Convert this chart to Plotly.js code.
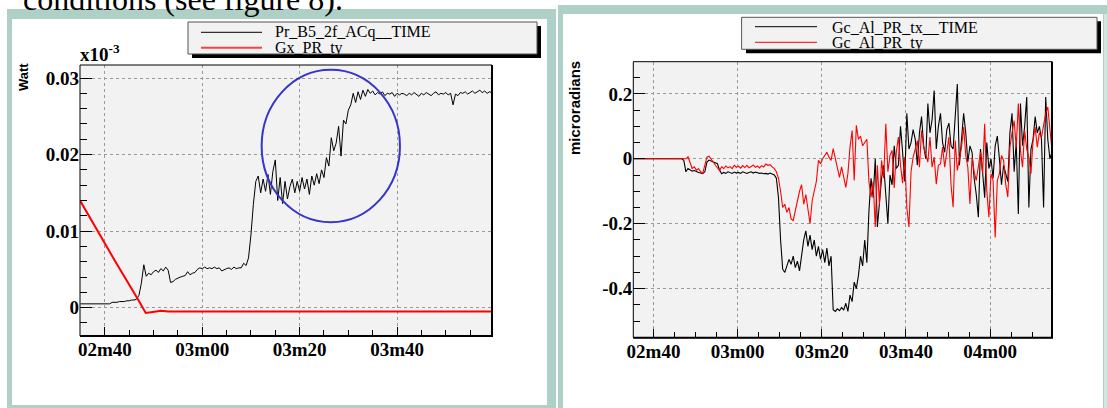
<!DOCTYPE html>
<html><head><meta charset="utf-8">
<script src="https://cdn.plot.ly/plotly-3.0.1.min.js"></script>
<style>html,body{margin:0;padding:0;background:#fff;overflow:hidden}#chart{width:1107px;height:408px}</style>
</head><body><div id="chart"></div>
<script>
// ---------------- DATA ----------------
// Left panel: time in seconds, uniform sampling for the black series
const leftT0 = 155, leftDt = 0.5;
const leftBlackName = "Pr_B5_2f_ACq__TIME";
const leftBlack = [
0.0005,0.0005,0.0005,0.0005,0.0005,0.0005,0.0005,0.0005,0.0005,0.0005,
0.0005,0.0005,0.0005,0.0007,0.0007,0.0007,0.0008,0.0008,0.0008,0.0009,
0.0009,0.0010,0.0010,0.0011,0.0016,0.0032,0.0056,0.0041,0.0045,0.0043,
0.0047,0.0049,0.0046,0.0051,0.0048,0.0053,0.0049,0.0033,0.0034,0.0037,
0.0039,0.0040,0.0041,0.0042,0.0047,0.0043,0.0045,0.0046,0.0050,0.0052,
0.0051,0.0053,0.0051,0.0052,0.0051,0.0053,0.0051,0.0052,0.0048,0.0050,
0.0051,0.0052,0.0050,0.0053,0.0051,0.0052,0.0052,0.0058,0.0055,0.0065,
0.0095,0.0135,0.0165,0.0172,0.0150,0.0168,0.0152,0.0174,0.0148,0.0178,
0.0193,0.0140,0.0170,0.0136,0.0165,0.0142,0.0158,0.0168,0.0150,0.0165,
0.0152,0.0170,0.0155,0.0168,0.0148,0.0172,0.0160,0.0175,0.0162,0.0180,
0.0170,0.0196,0.0185,0.0222,0.0205,0.0215,0.0237,0.0198,0.0245,0.0240,
0.0258,0.0265,0.0280,0.0268,0.0282,0.0272,0.0284,0.0276,0.0285,0.0280,
0.0283,0.0278,0.0281,0.0279,0.0282,0.0277,0.0280,0.0279,0.0281,0.0276,
0.0280,0.0278,0.0280,0.0279,0.0277,0.0280,0.0278,0.0281,0.0279,0.0276,
0.0280,0.0278,0.0281,0.0279,0.0277,0.0280,0.0282,0.0278,0.0280,0.0279,
0.0281,0.0278,0.0280,0.0265,0.0279,0.0277,0.0281,0.0280,0.0282,0.0279,
0.0281,0.0283,0.0280,0.0282,0.0284,0.0281,0.0283,0.0280,0.0282,0.0281];
const leftRedName = "Gx_PR_ty";
const leftRedT = [155, 158.2, 162, 166.7, 168.4, 169.5, 171.5, 173, 180, 190, 200, 210, 220, 230, 239.5];
const leftRedV = [0.0139, 0.0103, 0.0062, 0.0012, -0.0007, -0.0006, -0.0004, -0.0005, -0.0005, -0.0005, -0.0005, -0.0005, -0.0005, -0.0005, -0.0005];

// Right panel
const rightT0 = 155.2, rightDt = 0.5;
const rightBlackName = "Gc_Al_PR_tx__TIME";
const rightBlack = [
0,0,0,0,0,0,0,0,0,0,
0,0,0,0,0,0,0,0,0,0,
0,0,0,0,-0.005,-0.040,-0.030,-0.035,-0.038,-0.036,
-0.040,-0.042,-0.044,-0.046,-0.040,-0.010,-0.004,-0.008,-0.010,-0.012,
-0.015,-0.035,-0.046,-0.042,-0.045,-0.040,-0.043,-0.045,-0.041,-0.044,
-0.042,-0.045,-0.040,-0.043,-0.045,-0.042,-0.040,-0.044,-0.041,-0.043,
-0.045,-0.044,-0.046,-0.045,-0.047,-0.044,-0.046,-0.050,-0.060,-0.120,
-0.250,-0.340,-0.350,-0.330,-0.310,-0.325,-0.300,-0.335,-0.315,-0.345,
-0.300,-0.250,-0.222,-0.270,-0.235,-0.280,-0.250,-0.300,-0.270,-0.310,
-0.280,-0.320,-0.275,-0.330,-0.300,-0.465,-0.470,-0.462,-0.468,-0.458,
-0.466,-0.445,-0.470,-0.420,-0.440,-0.380,-0.400,-0.360,-0.300,-0.330,
-0.250,-0.320,-0.160,-0.060,-0.120,0.000,-0.210,-0.120,-0.060,-0.020,
-0.100,-0.200,-0.050,-0.080,0.040,-0.030,-0.020,0.100,0.020,-0.070,
0.140,0.030,0.050,0.090,0.060,-0.020,0.080,0.130,0.040,0.000,
0.170,0.080,0.120,0.210,0.030,0.100,0.140,0.050,0.020,0.090,
0.110,0.040,0.030,0.120,0.230,-0.020,0.070,0.140,0.080,-0.010,
0.040,0.020,-0.060,-0.110,-0.180,0.030,-0.040,-0.120,0.050,-0.030,
0.000,-0.060,0.040,0.070,0.000,-0.080,-0.020,-0.050,-0.070,0.080,
0.140,-0.040,0.050,-0.170,0.170,0.040,0.100,0.190,-0.150,0.030,
0.060,0.130,0.080,0.100,0.060,-0.150,0.190,0.060,0.000,0.020];
const rightRedName = "Gc_Al_PR_ty";
const rightRed = [
0,0,0,0,0,0,0,0,0,0,
0,0,0,0,0,0,0,0,0,0,
0,0,0,0,0,0,0.006,-0.015,-0.030,-0.025,
-0.035,-0.030,-0.040,-0.045,-0.020,0.005,0.008,0.000,-0.010,-0.020,
-0.028,-0.036,-0.025,-0.030,-0.022,-0.028,-0.024,-0.030,-0.020,-0.026,
-0.023,-0.029,-0.021,-0.027,-0.020,-0.028,-0.024,-0.019,-0.026,-0.022,
-0.028,-0.021,-0.025,-0.016,-0.020,-0.018,-0.025,-0.030,-0.040,-0.060,
-0.100,-0.150,-0.140,-0.165,-0.150,-0.185,-0.190,-0.160,-0.120,-0.100,
-0.080,-0.140,-0.110,-0.150,-0.200,-0.130,-0.100,-0.070,-0.005,-0.015,
0.000,0.010,0.020,0.005,-0.005,0.031,0.000,-0.020,-0.057,-0.025,
-0.060,-0.088,-0.045,0.036,0.087,-0.067,0.103,0.060,0.070,0.040,
0.050,0.060,-0.070,-0.118,-0.070,-0.210,-0.020,-0.140,-0.005,-0.060,
0.108,-0.040,0.010,0.026,-0.090,0.020,0.067,-0.020,-0.075,0.005,
-0.150,-0.210,-0.040,0.005,0.030,0.056,-0.026,0.087,0.036,0.015,
-0.010,0.067,-0.026,0.005,-0.078,-0.020,-0.016,0.036,-0.026,0.020,
0.067,-0.080,-0.149,0.056,-0.036,0.000,0.036,0.098,0.010,-0.026,
-0.139,0.005,-0.040,-0.067,-0.016,0.020,-0.046,0.108,-0.098,-0.180,
-0.046,-0.067,-0.242,-0.067,-0.046,0.010,-0.005,-0.078,-0.118,0.036,
0.080,0.118,0.036,0.170,0.026,-0.026,0.087,0.030,0.005,-0.046,
0.056,0.098,0.036,0.080,0.067,0.108,0.139,0.159,0.098,0.026];

// Tick labels
const leftXTicks = [160, 180, 200, 220];
const leftXLabels = ["02m40", "03m00", "03m20", "03m40"];
const leftXMinor = [155, 165, 170, 175, 185, 190, 195, 205, 210, 215, 225, 230, 235];
const leftYTicks = [0, 0.01, 0.02, 0.03];
const leftYLabels = ["0", "0.01", "0.02", "0.03"];
const leftYMinor = [-0.002, 0.002, 0.004, 0.006, 0.008, 0.012, 0.014, 0.016, 0.018, 0.022, 0.024, 0.026, 0.028];
const rightXTicks = [160, 180, 200, 220, 240];
const rightXLabels = ["02m40", "03m00", "03m20", "03m40", "04m00"];
const rightXMinor = [165, 170, 175, 185, 190, 195, 205, 210, 215, 225, 230, 235, 245, 250];
const rightYTicks = [-0.4, -0.2, 0, 0.2];
const rightYLabels = ["-0.4", "-0.2", "0", "0.2"];
const rightYMinor = [-0.5, -0.45, -0.35, -0.3, -0.25, -0.15, -0.1, -0.05, 0.05, 0.1, 0.15, 0.25];

// ---------------- BUILD ----------------
function grid(t0, dt, n) { const a = []; for (let i = 0; i < n; i++) a.push(+(t0 + i * dt).toFixed(2)); return a; }
const W = 1107, H = 408;
const fx = p => p / W, fy = p => 1 - p / H;

const traces = [
  {x: grid(leftT0, leftDt, leftBlack.length), y: leftBlack, type: 'scatter', mode: 'lines', line: {color: '#000', width: 1}, xaxis: 'x', yaxis: 'y', name: leftBlackName, hoverinfo: 'skip'},
  {x: leftRedT, y: leftRedV, type: 'scatter', mode: 'lines', line: {color: '#ff0000', width: 2}, xaxis: 'x', yaxis: 'y', name: leftRedName, hoverinfo: 'skip'},
  {x: grid(rightT0, rightDt, rightBlack.length), y: rightBlack, type: 'scatter', mode: 'lines', line: {color: '#000', width: 1.1}, xaxis: 'x2', yaxis: 'y2', name: rightBlackName, hoverinfo: 'skip'},
  {x: grid(rightT0, rightDt, rightRed.length), y: rightRed, type: 'scatter', mode: 'lines', line: {color: '#ff0000', width: 1.1}, xaxis: 'x2', yaxis: 'y2', name: rightRedName, hoverinfo: 'skip'}
];

const serif = 'Liberation Serif, Times New Roman, serif';
const sans = 'Liberation Sans, Arial, sans-serif';
const tickFont = {family: serif, size: 19, color: '#000', weight: 'bold'};
const teal = '#aed0c6';

function xAx(dom, range, tv, tt, minor, anchor) {
  return {domain: dom, range: range, anchor: anchor, tickmode: 'array', tickvals: tv, ticktext: tt,
    ticks: 'inside', ticklen: 9, tickwidth: 1, tickcolor: '#000', tickfont: tickFont,
    showgrid: true, gridcolor: '#9a9a9a', griddash: 'dot', gridwidth: 1, zeroline: false, showline: false,
    minor: {tickmode: 'array', tickvals: minor, ticks: 'inside', ticklen: 6, tickwidth: 1, tickcolor: '#000', showgrid: false},
    fixedrange: true};
}
function yAx(dom, range, tv, tt, minor, anchor) {
  return {domain: dom, range: range, anchor: anchor, tickmode: 'array', tickvals: tv, ticktext: tt,
    ticks: 'inside', ticklen: 12, tickwidth: 1, tickcolor: '#000', tickfont: tickFont,
    showgrid: true, gridcolor: '#9a9a9a', griddash: 'dot', gridwidth: 1, zeroline: false, showline: false,
    minor: {tickmode: 'array', tickvals: minor, ticks: 'inside', ticklen: 7, tickwidth: 1, tickcolor: '#000', showgrid: false},
    fixedrange: true};
}

const L = {x0: 80, x1: 492, y0: 65, y1: 336};
const R = {x0: 633.3, x1: 1052, y0: 61.7, y1: 337.7};

function rect(x0, y0, x1, y1, fill, line, lw, layer) {
  return {type: 'rect', xref: 'paper', yref: 'paper', x0: fx(x0), x1: fx(x1), y0: fy(y1), y1: fy(y0),
    fillcolor: fill, line: {color: line || 'rgba(0,0,0,0)', width: lw || 0}, layer: layer || 'above'};
}
function seg(x0, y0, x1, y1, color, w) {
  return {type: 'line', xref: 'paper', yref: 'paper', x0: fx(x0), x1: fx(x1), y0: fy(y0), y1: fy(y1), line: {color: color, width: w}};
}

const shapes = [
  rect(7, 9, 556, 408, teal, null, 0, 'below'),
  rect(12, 19, 547, 405, '#ffffff', null, 0, 'below'),
  rect(558, 5, 1107, 408, teal, null, 0, 'below'),
  rect(563, 14, 1103, 408, '#ffffff', null, 0, 'below'),
  rect(1104, 14, 1107, 408, '#d4e6e0', null, 0, 'below'),
  rect(L.x0, L.y0, L.x1, L.y1, '#f2f2f2', null, 0, 'below'),
  rect(R.x0, R.y0, R.x1, R.y1, '#f2f2f2', null, 0, 'below'),
  // plot frames
  rect(L.x0, L.y0, L.x1, L.y1, 'rgba(0,0,0,0)', '#000', 1),
  seg(L.x0, L.y1, L.x1 + 1, L.y1, '#000', 2),
  seg(L.x1, L.y0, L.x1, L.y1, '#000', 2),
  rect(R.x0, R.y0, R.x1, R.y1, 'rgba(0,0,0,0)', '#000', 1),
  seg(R.x0, R.y1, R.x1 + 1, R.y1, '#000', 2),
  seg(R.x1, R.y0, R.x1, R.y1, '#000', 2),
  // blue circle (highlight)
  {type: 'circle', xref: 'x', yref: 'y', x0: 192.2, x1: 220.6, y0: 0.01116, y1: 0.03107, line: {color: '#3535c8', width: 2}},
  // legends (box + shadow)
  rect(192, 26, 541, 58, '#000', null, 0),
  rect(188, 22, 537, 54, '#f2f2f2', '#555', 1),
  seg(201, 32.3, 262, 32.3, '#000', 1),
  seg(201, 47.7, 262, 47.7, '#ff4040', 2),
  rect(746, 21.3, 1101, 53.3, '#000', null, 0),
  rect(741.6, 17.3, 1097, 49.3, '#f2f2f2', '#555', 1),
  seg(755, 26.7, 817, 26.7, '#000', 1),
  seg(755, 42.3, 817, 42.3, '#ff0000', 1)
];

const legFont = {family: serif, size: 16, color: '#000'};
function ann(text, x, y, xa, ya, font, extra) {
  return Object.assign({text: text, xref: 'paper', yref: 'paper', x: fx(x), y: fy(y), xanchor: xa, yanchor: ya, showarrow: false, font: font, borderpad: 0}, extra || {});
}
const annotations = [
  ann('conditions (see figure 8).', 22, 18, 'left', 'bottom', {family: serif, size: 32, color: '#000'}),
  ann('x10<sup>-3</sup>', 79, 66, 'left', 'bottom', {family: serif, size: 19, color: '#000', weight: 'bold'}),
  ann('Watt', 23.5, 77.5, 'center', 'middle', {family: sans, size: 13, color: '#000', weight: 'bold'}, {textangle: -90}),
  ann('microradians', 575, 108, 'center', 'middle', {family: sans, size: 15, color: '#000', weight: 'bold'}, {textangle: -90}),
  ann(leftBlackName, 274, 32, 'left', 'middle', legFont),
  ann(leftRedName, 274, 47.5, 'left', 'middle', legFont),
  ann(rightBlackName, 831, 27.5, 'left', 'middle', legFont),
  ann(rightRedName, 831, 43, 'left', 'middle', legFont)
];

const layout = {
  width: W, height: H, margin: {l: 0, r: 0, t: 0, b: 0, pad: 0},
  paper_bgcolor: '#ffffff', plot_bgcolor: 'rgba(0,0,0,0)', showlegend: false,
  xaxis: xAx([fx(L.x0), fx(L.x1)], [154.9, 239.5], leftXTicks, leftXLabels, leftXMinor, 'y'),
  yaxis: yAx([fy(L.y1), fy(L.y0)], [-0.0037, 0.0317], leftYTicks, leftYLabels, leftYMinor, 'x'),
  xaxis2: xAx([fx(R.x0), fx(R.x1)], [155.2, 254.7], rightXTicks, rightXLabels, rightXMinor, 'y2'),
  yaxis2: yAx([fy(R.y1), fy(R.y0)], [-0.551, 0.299], rightYTicks, rightYLabels, rightYMinor, 'x2'),
  shapes: shapes, annotations: annotations
};

Plotly.newPlot('chart', traces, layout, {staticPlot: true, displayModeBar: false});
</script></body></html>
